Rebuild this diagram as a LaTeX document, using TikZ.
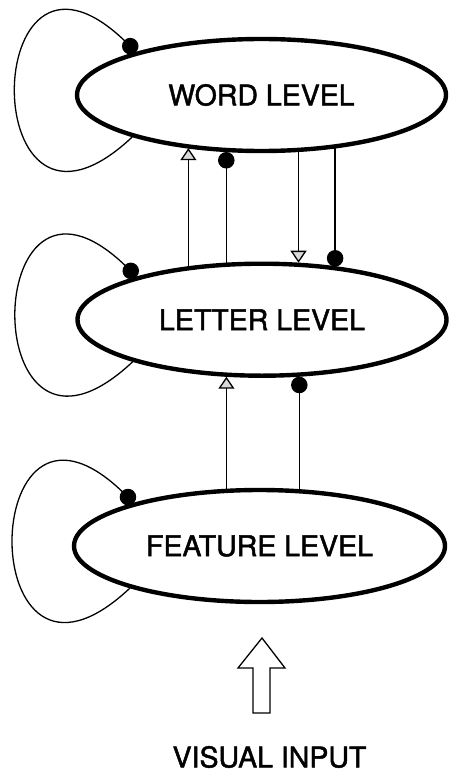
\documentclass[tikz,border=0pt]{standalone}
\usepackage{fontspec}
\setmainfont{TeX Gyre Heros}[FakeBold=1.6]
\usetikzlibrary{arrows.meta,shapes.geometric}
\begin{document}
\begin{tikzpicture}[x=1pt,y=-1pt,
  level/.style={ellipse, draw, line width=4.4pt, minimum width=369pt, minimum height=112pt, inner sep=0pt, font=\fontsize{28.5}{34}\selectfont},
  conn/.style={line width=1.3pt},
  exc/.style={conn, -{Triangle[length=12pt,width=16pt,fill=gray!30]}},
  inh/.style={conn, -{Circle[length=16.5pt]}}]
\useasboundingbox (0,0) rectangle (449,773);
\node[level] (word) at (261.5,95) {WORD LEVEL};
\node[level] (letter) at (262,319.7) {LETTER LEVEL};
\node[level, minimum width=371pt] (feature) at (259.5,546) {FEATURE LEVEL};
% self loops
\draw[inh] (word.198) .. controls +(-157.5,148) and +(-158.5,-152) .. (word.161.5);
\draw[inh] (letter.198) .. controls +(-157.5,148) and +(-158.5,-152) .. (letter.161.5);
\draw[inh] (feature.198) .. controls +(-157.5,148) and +(-158.5,-152) .. (feature.161.5);
% word <-> letter
\draw[exc] (letter.144.3) -- (letter.144.3 |- word.215.7);
\draw[inh] (letter.122.3) -- (letter.122.3 |- word.237.7);
\draw[exc] (word.303.1) -- (word.303.1 |- letter.56.9);
\draw[inh] (word.324.7) -- (word.324.7 |- letter.35.3);
% letter <-> feature
\draw[exc] (feature.120.4) -- (feature.120.4 |- letter.237.7);
\draw[inh] (feature.55.1) -- (feature.55.1 |- letter.303.1);
% visual input
\draw[conn] (262,638) -- (285,668) -- (270,668) -- (270,713) -- (253,713) -- (253,668) -- (238,668) -- cycle;
\node[font=\fontsize{28.5}{34}\selectfont] (input) at (269.5,757) {VISUAL INPUT};
\end{tikzpicture}
\end{document}
